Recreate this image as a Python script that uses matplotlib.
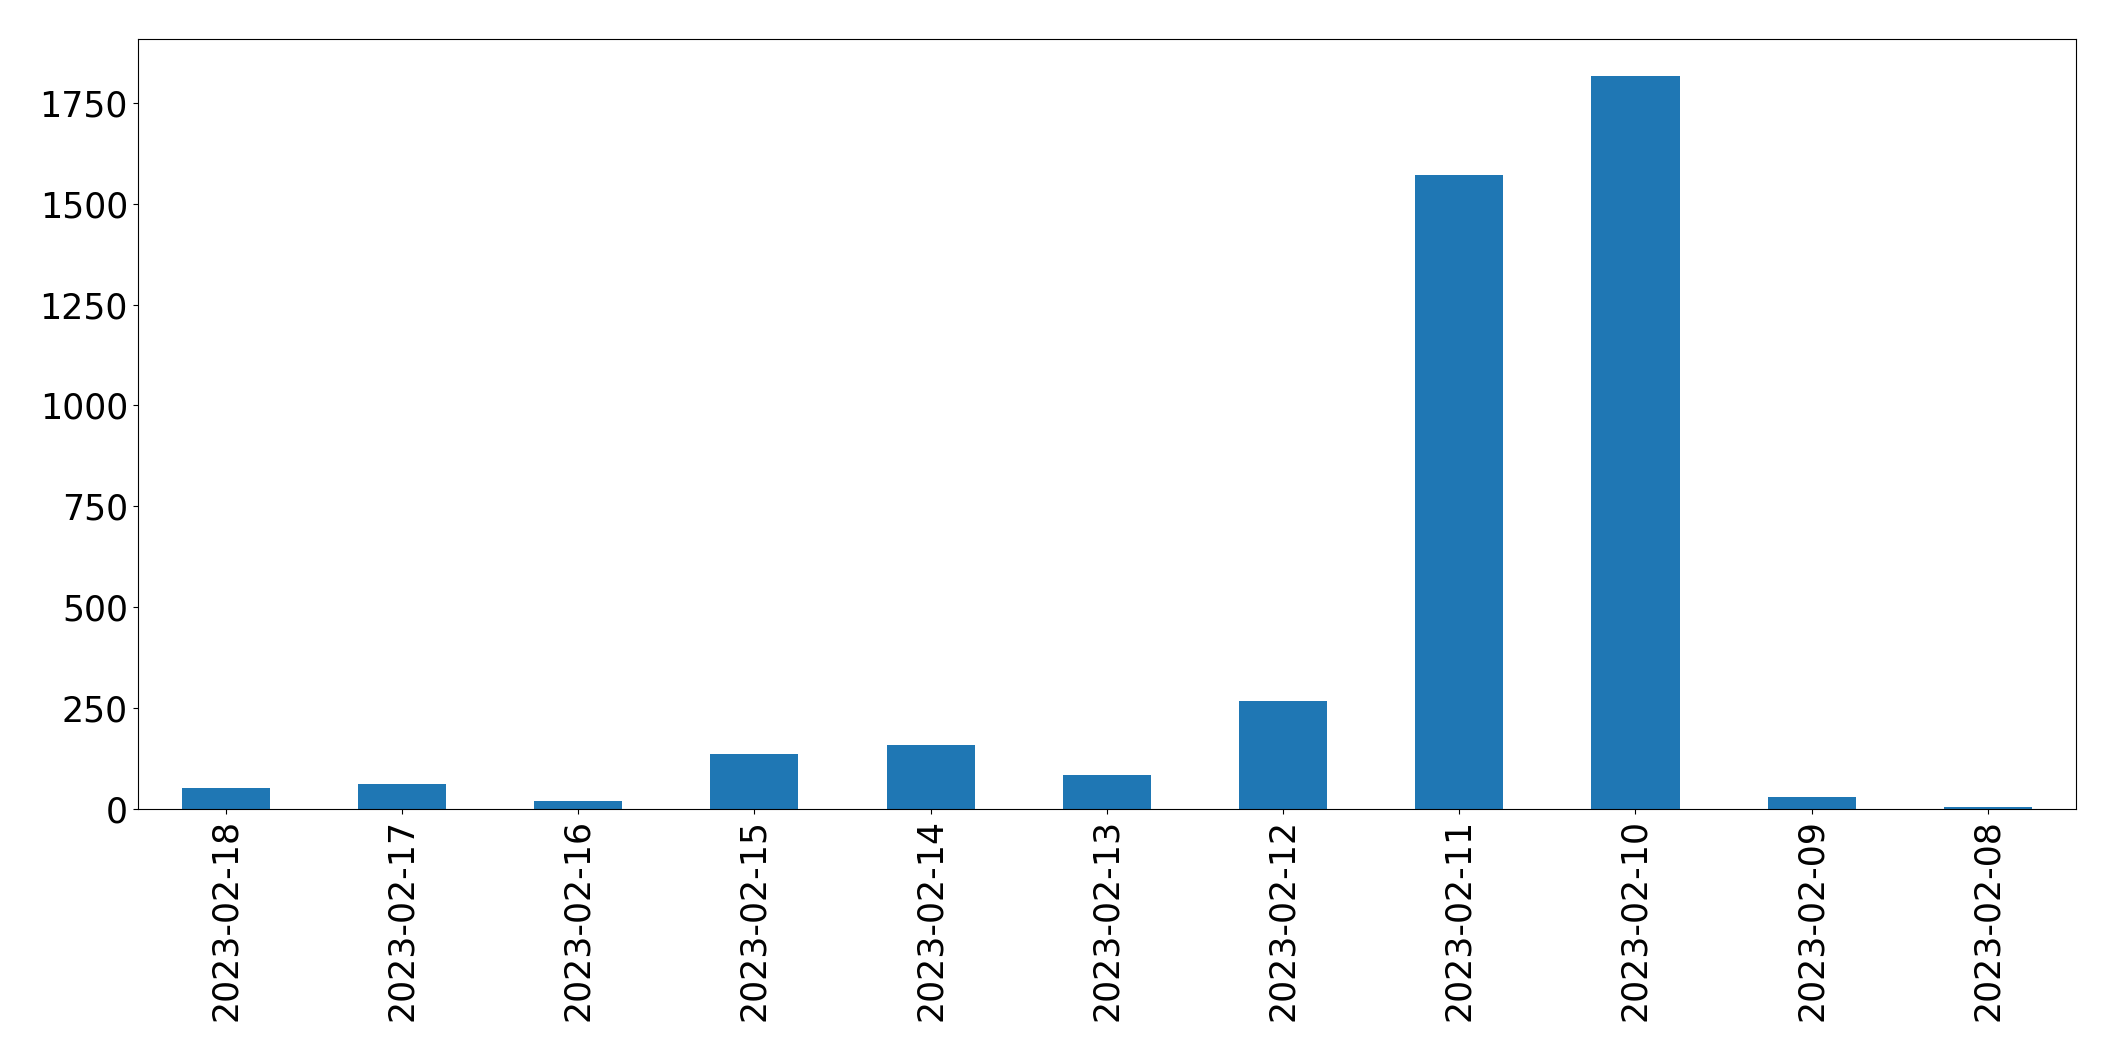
import matplotlib
matplotlib.use("Agg")
import matplotlib.pyplot as plt

dates = ["2023-02-18", "2023-02-17", "2023-02-16", "2023-02-15", "2023-02-14",
         "2023-02-13", "2023-02-12", "2023-02-11", "2023-02-10", "2023-02-09", "2023-02-08"]
counts = [52, 62, 20, 136, 159, 84, 267, 1570, 1817, 30, 5]

fig = plt.figure(figsize=(21.15, 10.61), dpi=100)
ax = fig.add_axes([137.6 / 2115, 1 - 809 / 1061, (2076 - 137.6) / 2115, (809 - 39) / 1061])
x = list(range(len(dates)))
ax.bar(x, counts, width=0.5, color="#1f77b4")
ax.set_xlim(-0.5, len(dates) - 0.5)
ax.set_xticks(x)
ax.set_xticklabels(dates, rotation=90)
ax.tick_params(axis="both", labelsize=25)
fig.savefig("out.png", dpi=100)
